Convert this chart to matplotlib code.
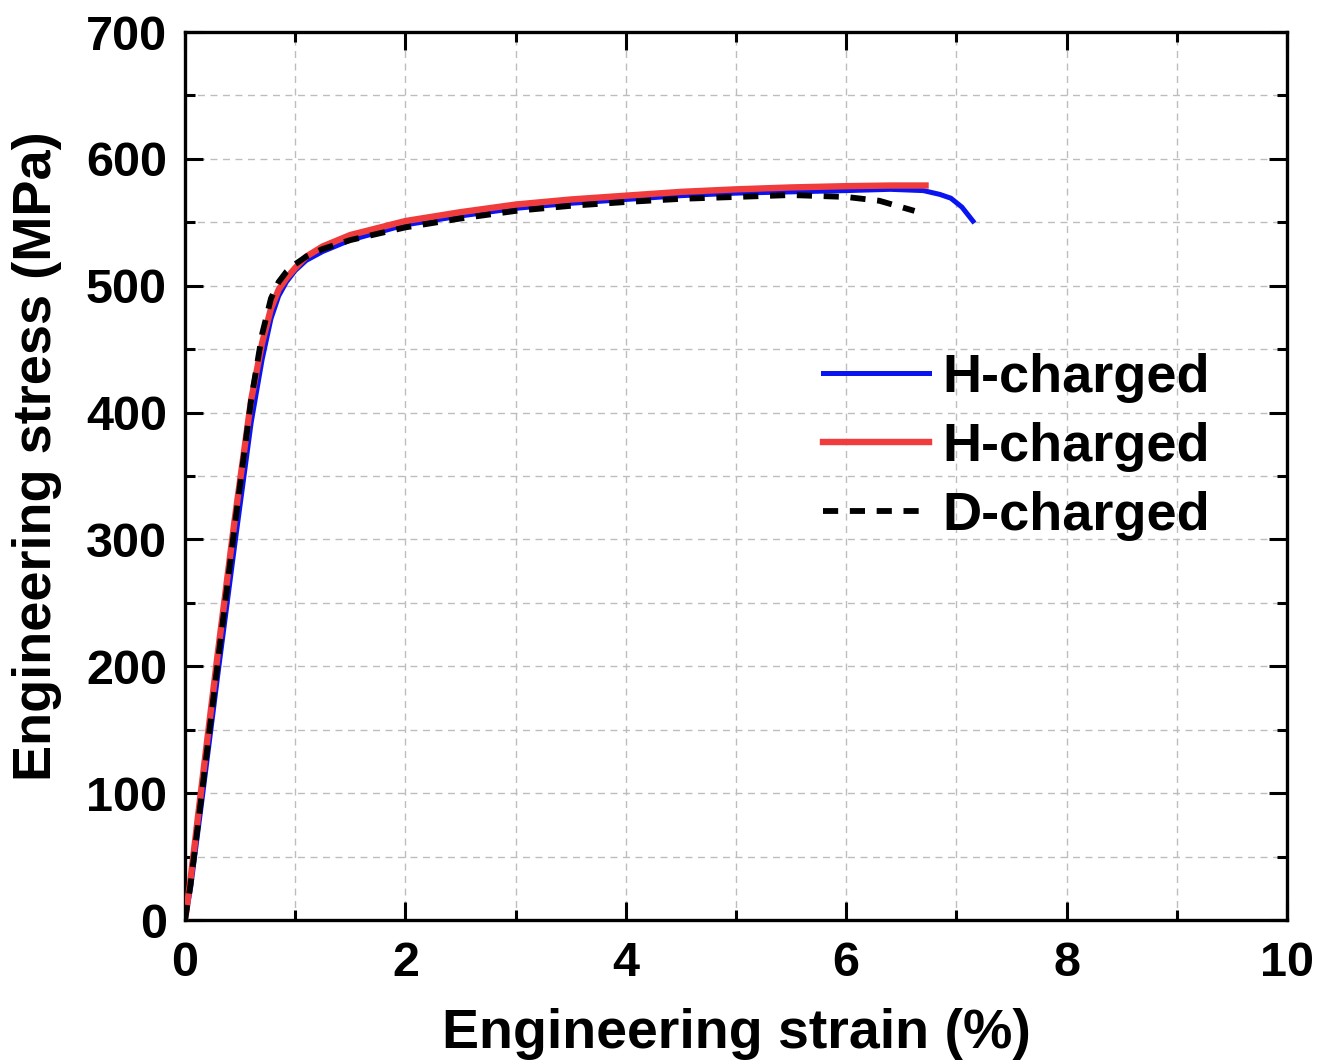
import matplotlib
matplotlib.use('Agg')
import matplotlib.pyplot as plt
from matplotlib.ticker import MultipleLocator

plt.rcParams['font.family'] = ['Liberation Sans', 'DejaVu Sans']
plt.rcParams['font.weight'] = 'bold'

# H-charged specimen 1 (blue)
strain_h1 = [0, 0.05, 0.15, 0.3, 0.45, 0.6, 0.7, 0.78, 0.85, 0.92, 1.0, 1.1, 1.25,
             1.5, 2.0, 2.5, 3.0, 3.5, 4.0, 4.5, 5.0, 5.5, 6.0, 6.4, 6.7, 6.85,
             6.95, 7.05, 7.15]
stress_h1 = [0, 25, 92, 195, 295, 392, 442, 474, 492, 503, 512, 520, 527,
             536, 548, 555, 561, 565, 568, 571, 573, 574, 575, 576, 575, 572,
             569, 562, 551]

# H-charged specimen 2 (red)
strain_h2 = [0, 0.05, 0.15, 0.3, 0.45, 0.6, 0.7, 0.78, 0.85, 0.92, 1.0, 1.1, 1.25,
             1.5, 2.0, 2.5, 3.0, 3.5, 4.0, 4.5, 5.0, 5.5, 6.0, 6.4, 6.72]
stress_h2 = [0, 32, 105, 212, 315, 410, 455, 482, 497, 506, 514, 523, 531,
             540, 551, 558, 564, 568, 571, 574, 576, 577.5, 578.5, 579, 579]

# D-charged (black dashed)
strain_d = [0, 0.05, 0.15, 0.3, 0.45, 0.6, 0.7, 0.78, 0.85, 0.92, 1.0, 1.1, 1.25,
            1.5, 2.0, 2.5, 3.0, 3.5, 4.0, 4.5, 5.0, 5.5, 6.0, 6.3, 6.62]
stress_d = [0, 28, 98, 205, 310, 410, 462, 490, 503, 511, 517, 523, 529,
            536, 546, 553, 559, 563, 566, 568.5, 570, 571.5, 570, 567, 559]

fig = plt.figure(figsize=(13.32, 10.64), dpi=100)
ax = fig.add_axes([0.1389, 0.1353, 0.8273, 0.8346])

ax.plot(strain_h1, stress_h1, color='#0a14f0', lw=3.6, label='H-charged', zorder=3)
ax.plot(strain_h2, stress_h2, color='#f03c3c', lw=4.6, label='H-charged', zorder=4)
ax.plot(strain_d, stress_d, color='black', lw=4.2, ls=(0, (2.6, 2.0)),
        label='D-charged', zorder=5)

ax.set_xlim(0, 10)
ax.set_ylim(0, 700)
ax.xaxis.set_major_locator(MultipleLocator(2))
ax.xaxis.set_minor_locator(MultipleLocator(1))
ax.yaxis.set_major_locator(MultipleLocator(100))
ax.yaxis.set_minor_locator(MultipleLocator(50))

ax.grid(True, which='both', color='#bdbdbd', lw=1.0, ls=(0, (5, 4)), zorder=0)

ax.tick_params(which='both', direction='in', top=True, right=True, width=2.2,
               labelsize=35)
ax.tick_params(axis='x', which='both', pad=15)
ax.tick_params(axis='y', which='both', pad=13)
ax.tick_params(which='major', length=13)
ax.tick_params(which='minor', length=7)
for lbl in ax.get_xticklabels() + ax.get_yticklabels():
    lbl.set_fontweight('bold')
for s in ax.spines.values():
    s.set_linewidth(2.4)

ax.set_xlabel('Engineering strain (%)', fontsize=40, fontweight='bold', labelpad=16)
ax.set_ylabel('Engineering stress (MPa)', fontsize=39, fontweight='bold')
ax.yaxis.set_label_coords(-0.112, 0.522)

ax.legend(loc='upper left', bbox_to_anchor=(0.535, 0.693), frameon=False,
          handlelength=1.95, handletextpad=0.25, labelspacing=0.35,
          prop={'weight': 'bold', 'size': 39})

fig.savefig('out.png', dpi=100)
